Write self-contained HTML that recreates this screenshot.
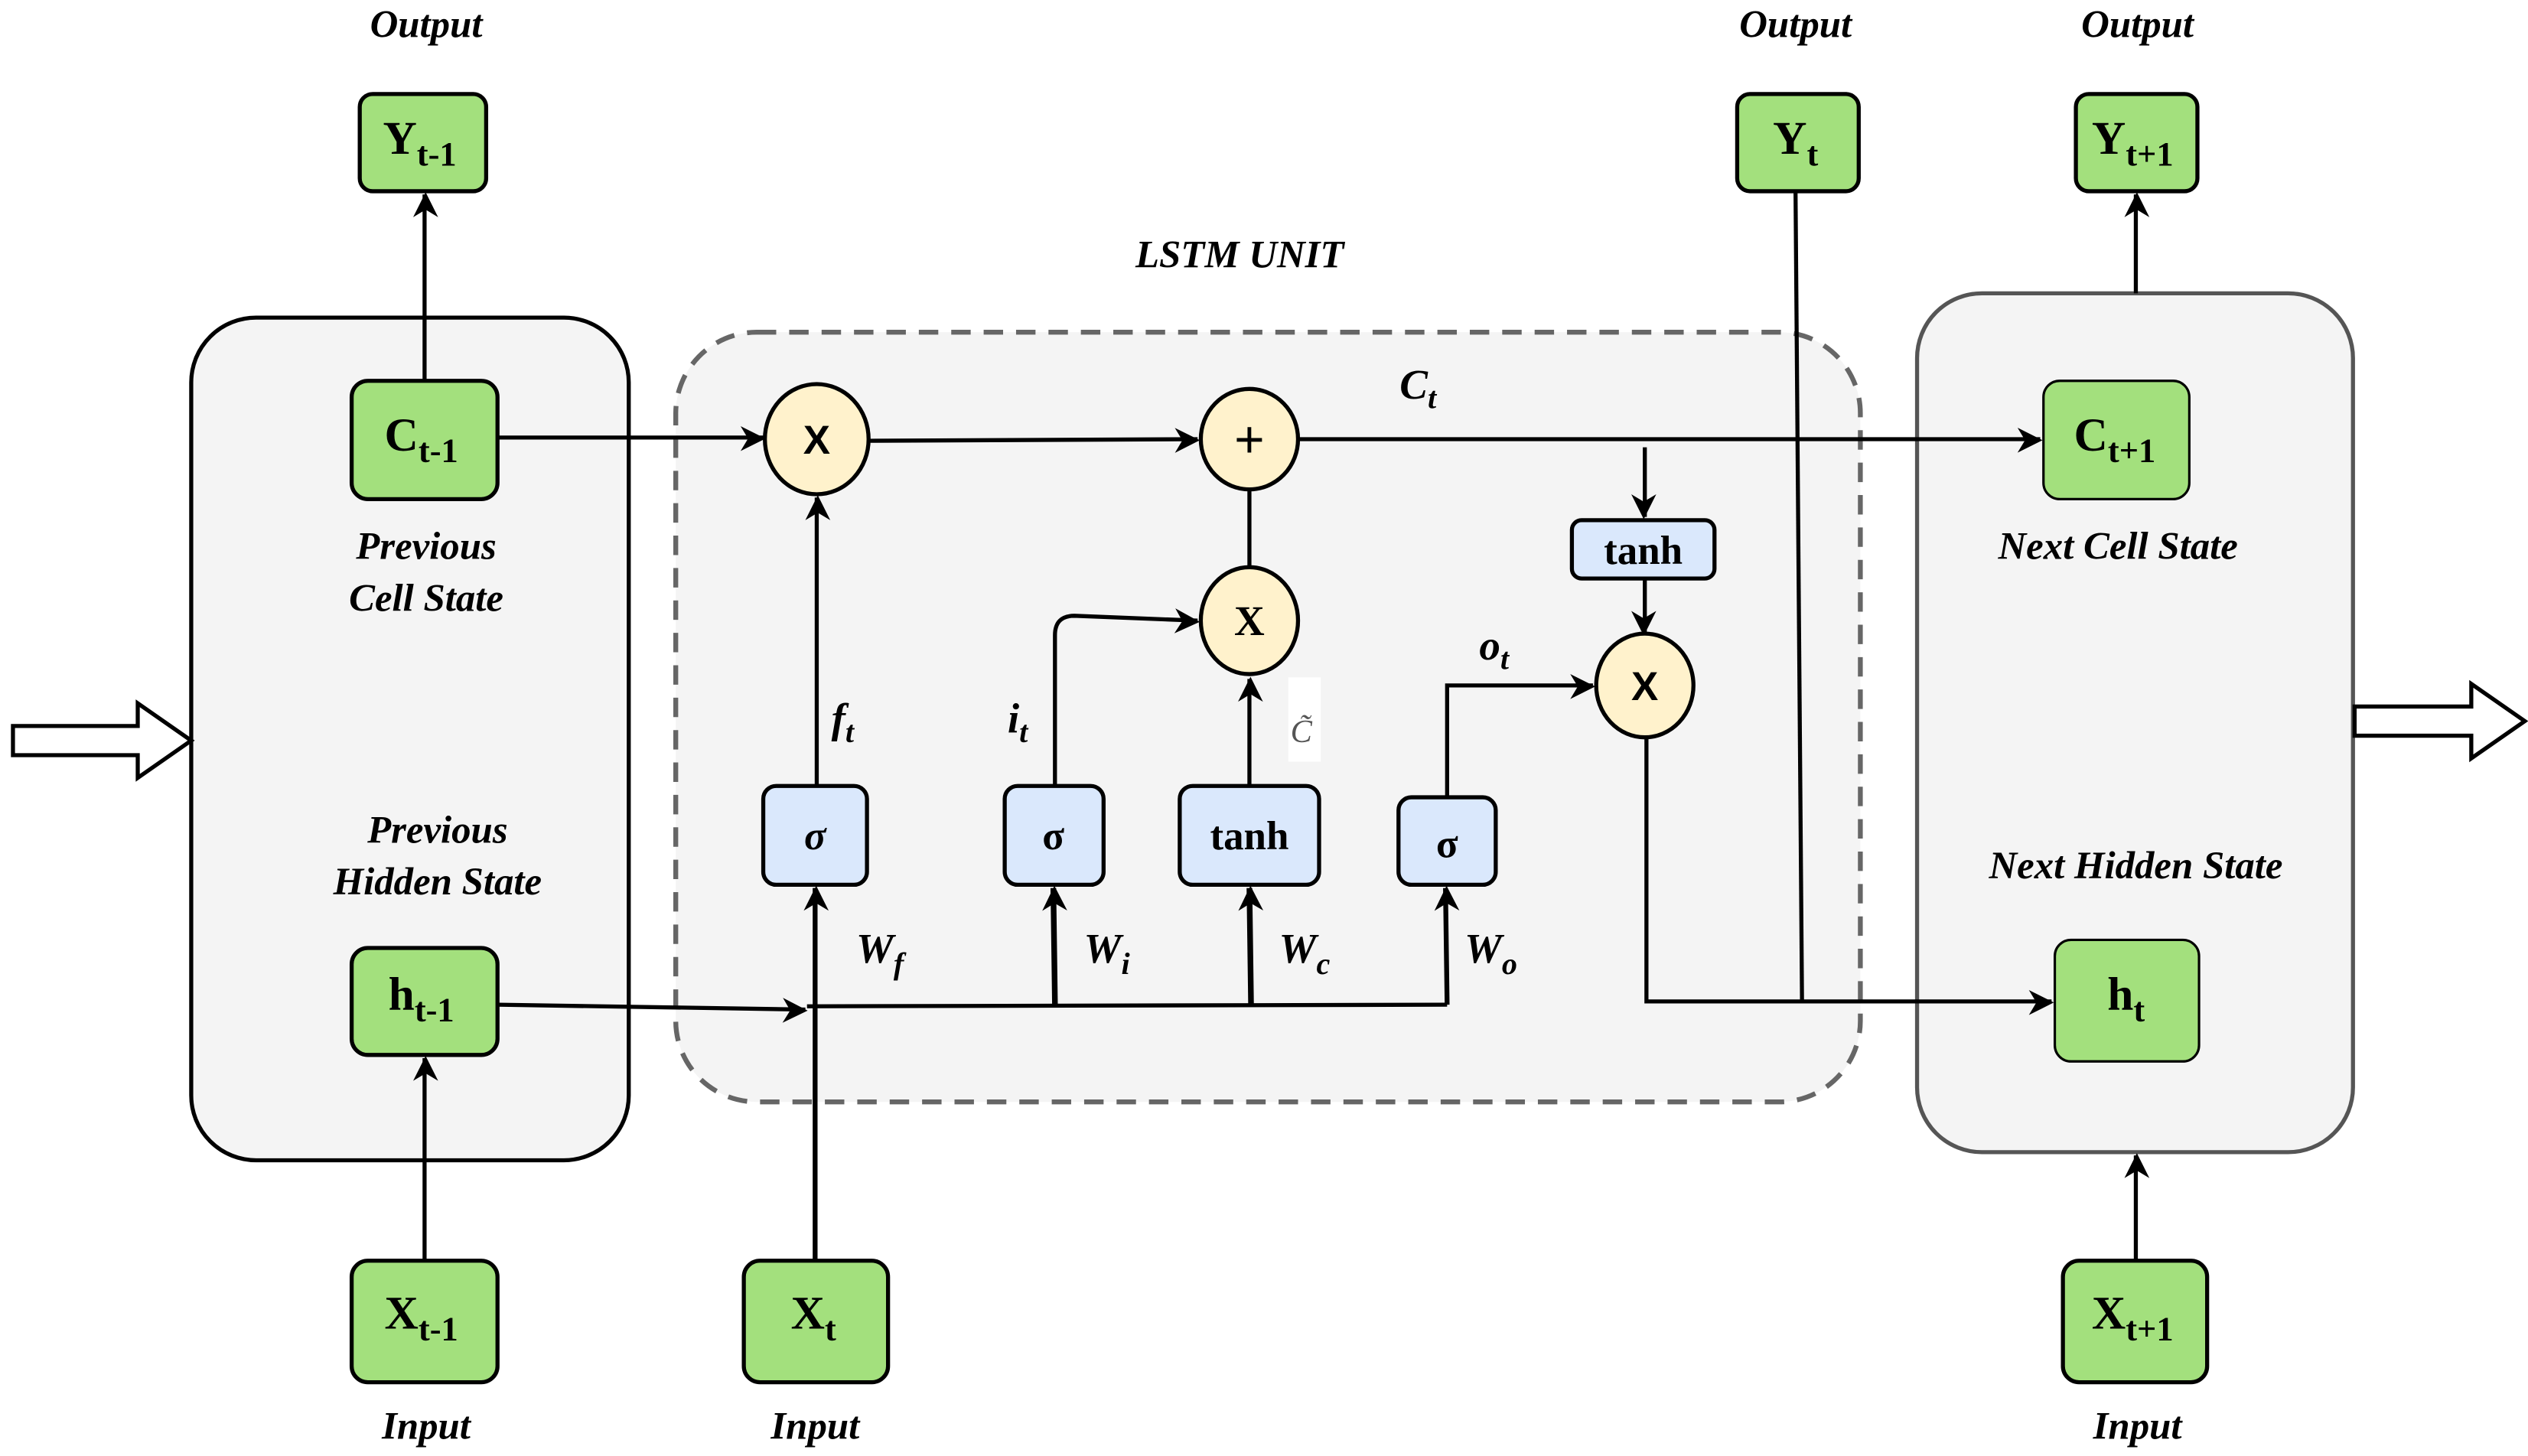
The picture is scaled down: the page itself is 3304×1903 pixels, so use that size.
<!DOCTYPE html>
<html><head><meta charset="utf-8"><style>html,body{margin:0;padding:0;background:#fff}svg{display:block}</style></head>
<body>
<svg width="3304" height="1903" viewBox="0 0 1560 898.5" xmlns="http://www.w3.org/2000/svg" font-family="Liberation Serif, serif">
<defs>
<marker id="a" viewBox="0 0 10 10" refX="9" refY="5" markerWidth="7" markerHeight="7" markerUnits="userSpaceOnUse" orient="auto" overflow="visible">
<path d="M0,0 L10,5 L0,10 L3,5 Z" fill="#000" transform="scale(2.2) translate(-5,-2.3)"/>
</marker>
</defs>
<rect width="1560" height="898.5" fill="#fff"/>
<rect x="118" y="196" width="270" height="520" rx="40" fill="#f4f4f4" stroke="#000" stroke-width="2.5"/>
<rect x="417" y="205" width="731" height="475" rx="50" fill="#f4f4f4" stroke="#666" stroke-width="3" stroke-dasharray="12,8"/>
<rect x="1183" y="181" width="269" height="530" rx="40" fill="#f4f4f4" stroke="#555" stroke-width="2.5"/>
<path d="M8,448 L85,448 L85,434 L118,457 L85,480 L85,466 L8,466 Z" fill="#fff" stroke="#000" stroke-width="2.5"/>
<path d="M1453,436 L1525,436 L1525,422 L1558,445 L1525,468 L1525,454 L1453,454 Z" fill="#fff" stroke="#000" stroke-width="2.5"/>
<g stroke="#000" stroke-width="2.5" fill="none">
<line x1="262" y1="235" x2="262" y2="120" marker-end="url(#a)"/>
<line x1="262" y1="778" x2="262" y2="653" marker-end="url(#a)"/>
<line x1="1318" y1="181" x2="1318" y2="120" marker-end="url(#a)"/>
<line x1="1318" y1="778" x2="1318" y2="713" marker-end="url(#a)"/>
<line x1="307" y1="270" x2="471" y2="270" marker-end="url(#a)"/>
<line x1="536" y1="272" x2="739" y2="271" marker-end="url(#a)"/>
<line x1="801" y1="271" x2="1259" y2="271" marker-end="url(#a)"/>
<line x1="1015" y1="276" x2="1015" y2="319" marker-end="url(#a)"/>
<line x1="1015" y1="357" x2="1015" y2="391" marker-end="url(#a)"/>
<polyline points="1016,454 1016,618 1266,618" marker-end="url(#a)"/>
<line x1="1108" y1="118" x2="1112" y2="618"/>
<line x1="307" y1="620" x2="497" y2="623" marker-end="url(#a)"/>
<line x1="498" y1="621" x2="893" y2="620"/>
<line x1="503" y1="853" x2="503" y2="548" stroke-width="3" marker-end="url(#a)"/>
<line x1="504" y1="485" x2="504" y2="307" marker-end="url(#a)"/>
<line x1="651" y1="620" x2="650" y2="548" stroke-width="3.5" marker-end="url(#a)"/>
<line x1="772" y1="620" x2="771" y2="548" stroke-width="3.5" marker-end="url(#a)"/>
<line x1="893" y1="620" x2="892" y2="548" stroke-width="3" marker-end="url(#a)"/>
<path d="M651,485 L651,392 Q651,380 663,380 L739,383" marker-end="url(#a)"/>
<line x1="771" y1="485" x2="771" y2="419" marker-end="url(#a)"/>
<line x1="771" y1="301" x2="771" y2="353"/>
<polyline points="893,492 893,423 983,423" marker-end="url(#a)"/>
</g>
<g fill="#a3e07d" stroke="#000" stroke-width="2.5">
<rect x="222" y="58" width="78" height="60" rx="8"/>
<rect x="1072" y="58" width="75" height="60" rx="8"/>
<rect x="1281" y="58" width="75" height="60" rx="8"/>
<rect x="217" y="235" width="90" height="73" rx="10"/>
<rect x="217" y="585" width="90" height="66" rx="10"/>
<rect x="217" y="778" width="90" height="75" rx="10"/>
<rect x="459" y="778" width="89" height="75" rx="10"/>
<rect x="1273" y="778" width="89" height="75" rx="10"/>
<rect x="1261" y="235" width="90" height="73" rx="10" stroke-width="1.5"/>
<rect x="1268" y="580" width="89" height="75" rx="10" stroke-width="1.5"/>
</g>
<g fill="#dae8fc" stroke="#000" stroke-width="2.5">
<rect x="471" y="485" width="64" height="61" rx="8"/>
<rect x="620" y="485" width="61" height="61" rx="8"/>
<rect x="728" y="485" width="86" height="61" rx="8"/>
<rect x="863" y="492" width="60" height="54" rx="8"/>
<rect x="970" y="321" width="88" height="36" rx="6"/>
</g>
<g fill="#fff2cc" stroke="#000" stroke-width="2.5">
<ellipse cx="504" cy="271" rx="32" ry="34"/>
<ellipse cx="771" cy="271" rx="30" ry="31"/>
<ellipse cx="771" cy="383" rx="30" ry="33"/>
<ellipse cx="1015" cy="423" rx="30" ry="32"/>
</g>
<rect x="795" y="418" width="20" height="52" fill="#fff"/>
<g font-weight="bold" text-anchor="middle" fill="#000">
<g font-size="29">
<text x="259" y="95">Y<tspan font-size="21" dy="7">t-1</tspan></text>
<text x="1108" y="95">Y<tspan font-size="21" dy="7">t</tspan></text>
<text x="1316" y="95">Y<tspan font-size="21" dy="7">t+1</tspan></text>
<text x="260" y="278">C<tspan font-size="21" dy="7">t-1</tspan></text>
<text x="1305" y="278">C<tspan font-size="21" dy="7">t+1</tspan></text>
<text x="260" y="623">h<tspan font-size="21" dy="7">t-1</tspan></text>
<text x="1312" y="623">h<tspan font-size="21" dy="7">t</tspan></text>
<text x="260" y="820">X<tspan font-size="21" dy="7">t-1</tspan></text>
<text x="502" y="820">X<tspan font-size="21" dy="7">t</tspan></text>
<text x="1316" y="820">X<tspan font-size="21" dy="7">t+1</tspan></text>
</g>
<g font-family="Liberation Sans, sans-serif" font-size="25">
<text x="504" y="280">X</text>
<text x="1015" y="432">X</text>
<text x="771" y="282" font-weight="normal" font-size="32">+</text>
</g>
<text x="771" y="392" font-size="26">X</text>
<g font-size="25">
<text x="503" y="524" font-style="italic">σ</text>
<text x="650" y="524">σ</text>
<text x="771" y="524">tanh</text>
<text x="893" y="529">σ</text>
<text x="1014" y="348">tanh</text>
</g>
<g font-style="italic" font-size="24">
<text x="263" y="23">Output</text>
<text x="1108" y="23">Output</text>
<text x="1319" y="23">Output</text>
<text x="765" y="165">LSTM UNIT</text>
<text x="263" y="345">Previous</text>
<text x="263" y="377">Cell State</text>
<text x="270" y="520">Previous</text>
<text x="270" y="552">Hidden State</text>
<text x="1307" y="345">Next Cell State</text>
<text x="1318" y="542">Next Hidden State</text>
<text x="263" y="888">Input</text>
<text x="503" y="888">Input</text>
<text x="1319" y="888">Input</text>
</g>
<g font-style="italic" font-size="26">
<text x="875" y="246">C<tspan font-size="19" dy="6">t</tspan></text>
<text x="520" y="452">f<tspan font-size="19" dy="6">t</tspan></text>
<text x="628" y="452">i<tspan font-size="19" dy="6">t</tspan></text>
<text x="922" y="407">o<tspan font-size="19" dy="6">t</tspan></text>
<text x="543" y="594">W<tspan font-size="19" dy="7">f</tspan></text>
<text x="683" y="594">W<tspan font-size="19" dy="7">i</tspan></text>
<text x="805" y="594">W<tspan font-size="19" dy="7">c</tspan></text>
<text x="920" y="594">W<tspan font-size="19" dy="7">o</tspan></text>
</g>
<text x="803" y="458" font-style="italic" font-weight="normal" font-size="20" fill="#555">C̃</text>
</g>
</svg>
</body></html>
